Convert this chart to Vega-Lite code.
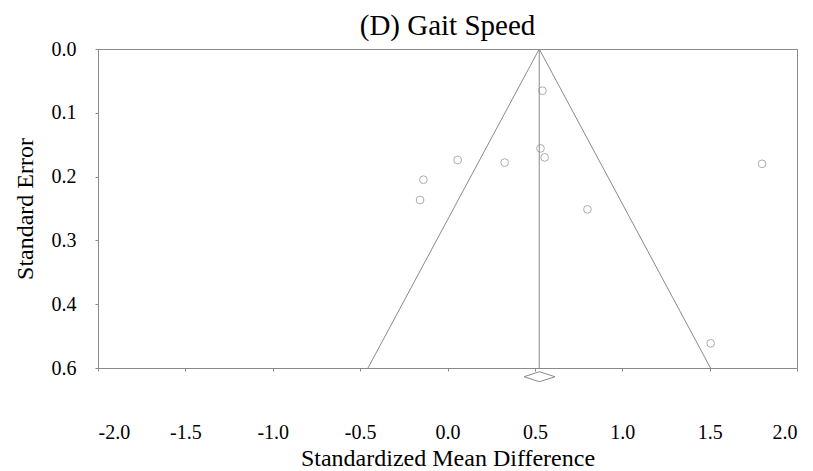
{
  "$schema": "https://vega.github.io/schema/vega-lite/v6.json",
  "width": 699,
  "height": 319,
  "autosize": "none",
  "padding": {"left": 98, "top": 49, "right": 16, "bottom": 103},
  "background": "white",
  "title": {
    "text": "(D) Gait Speed",
    "font": "Liberation Serif",
    "fontSize": 29,
    "fontWeight": "normal",
    "color": "black",
    "anchor": "middle",
    "offset": 12,
    "dy": 14
  },
  "config": {
    "font": "Liberation Serif",
    "view": {"stroke": "#8a8a8a", "strokeWidth": 1},
    "axis": {
      "domain": false,
      "grid": false,
      "tickColor": "#8a8a8a",
      "tickSize": 3,
      "labelFont": "Liberation Serif",
      "labelFontSize": 20,
      "labelColor": "black",
      "titleFont": "Liberation Serif",
      "titleFontSize": 24,
      "titleFontWeight": "normal",
      "titleColor": "black"
    }
  },
  "datasets": {
    "studies": [
      {"smd": 0.543, "se": 0.0654},
      {"smd": 0.532, "se": 0.1558},
      {"smd": 0.556, "se": 0.1699},
      {"smd": 0.058, "se": 0.174},
      {"smd": 0.327, "se": 0.178},
      {"smd": -0.138, "se": 0.2049},
      {"smd": -0.157, "se": 0.2367},
      {"smd": 0.801, "se": 0.2514},
      {"smd": 1.8, "se": 0.18},
      {"smd": 1.506, "se": 0.4614}
    ],
    "funnel": [
      {"smd": -0.455, "se": 0.5, "o": 1},
      {"smd": 0.525, "se": 0.0, "o": 2},
      {"smd": 1.505, "se": 0.5, "o": 3}
    ],
    "center": [
      {"smd": 0.525, "se": 0.0, "se2": 0.5}
    ],
    "diamond": [
      {"smd": 0.438, "se": 0.5137, "o": 1},
      {"smd": 0.526, "se": 0.5058, "o": 2},
      {"smd": 0.615, "se": 0.5137, "o": 3},
      {"smd": 0.526, "se": 0.5215, "o": 4},
      {"smd": 0.438, "se": 0.5137, "o": 5}
    ]
  },
  "encoding": {
    "x": {
      "field": "smd",
      "type": "quantitative",
      "scale": {"domain": [-2, 2], "nice": false, "zero": false},
      "axis": {
        "title": "Standardized Mean Difference",
        "values": [-2, -1.5, -1, -0.5, 0, 0.5, 1, 1.5, 2],
        "labelExpr": "(datum.value < 0 ? '-' : '') + format(abs(datum.value), '.1f')",
        "labelPadding": 51,
        "titlePadding": 4
      }
    },
    "y": {
      "field": "se",
      "type": "quantitative",
      "scale": {"domain": [0, 0.5], "reverse": true, "nice": false, "zero": false},
      "axis": {
        "title": "Standard Error",
        "values": [0, 0.1, 0.2, 0.3, 0.4, 0.5],
        "labelExpr": "datum.value >= 0.49 ? '0.6' : format(datum.value, '.1f')",
        "labelPadding": 19,
        "titlePadding": 14
      }
    }
  },
  "layer": [
    {
      "data": {"name": "funnel"},
      "mark": {"type": "line", "color": "#8a8a8a", "strokeWidth": 1, "clip": false},
      "encoding": {"order": {"field": "o", "type": "quantitative"}}
    },
    {
      "data": {"name": "center"},
      "mark": {"type": "rule", "color": "#8a8a8a", "strokeWidth": 1},
      "encoding": {"y2": {"field": "se2"}}
    },
    {
      "data": {"name": "diamond"},
      "mark": {"type": "line", "color": "#8a8a8a", "strokeWidth": 1, "clip": false},
      "encoding": {"order": {"field": "o", "type": "quantitative"}}
    },
    {
      "data": {"name": "studies"},
      "mark": {"type": "point", "shape": "circle", "filled": false, "color": "#8a8a8a", "size": 60, "strokeWidth": 1, "clip": false}
    }
  ]
}
